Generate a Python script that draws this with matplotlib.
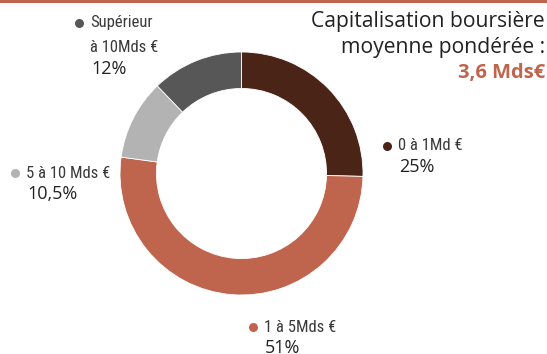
import matplotlib
matplotlib.use("Agg")
import matplotlib.pyplot as plt
from matplotlib import font_manager

# Capitalisation split by bucket (%)
labels = ["0 à 1Md €", "1 à 5Mds €", "5 à 10 Mds €", "Supérieur\nà 10Mds €"]
shares = [25, 51, 10.5, 12]
share_text = ["25%", "51%", "10,5%", "12%"]
colors = ["#4b2418", "#c0654d", "#b3b3b3", "#575757"]

W, H = 547, 354

installed = {f.name for f in font_manager.fontManager.ttflist}
narrow = next((n for n in ["Liberation Sans Narrow", "Roboto Condensed",
                           "Open Sans Condensed", "DejaVu Sans Condensed"]
               if n in installed), "Roboto")
main_font = "Open Sans" if "Open Sans" in installed else "DejaVu Sans"

fig = plt.figure(figsize=(W / 100, H / 100), dpi=100)
ax = fig.add_axes([0, 0, 1, 1])

# orange rule along the top
ax.axhline(H - 1, color="#c0654d", lw=2.2)

cx, cy, r = 241.5, H - 173.5, 121.5
ax.pie(shares, colors=colors, startangle=90, counterclock=False,
       center=(cx, cy), radius=r, frame=True,
       wedgeprops=dict(width=r * 0.30, edgecolor="white", linewidth=0.6))
ax.set_xlim(0, W)
ax.set_ylim(0, H)
ax.set_aspect("equal")
ax.axis("off")

# bullet position (px from top-left) for each label block
anchors = [(387, 146), (253, 327), (15, 173), (79, 23)]
for lab, pct, col, (bx, by) in zip(labels, share_text, colors, anchors):
    ax.plot(bx, H - by, "o", ms=6.5, color=col, mec="none")
    lines = lab.split("\n")
    for i, line in enumerate(lines):
        ax.text(bx + 11, H - by - i * 25, line, family=narrow, fontsize=12,
                color="#3a3a3a", va="center", ha="left")
    ax.text(bx + 12, H - by - 25 * (len(lines) - 1) - 21, pct,
            family=main_font, fontsize=13, color="#222222",
            va="center", ha="left")

ax.text(545, H - 22, "Capitalisation boursière", family=main_font,
        fontsize=15.2, color="#222222", ha="right", va="center")
ax.text(545, H - 48, "moyenne pondérée :", family=main_font,
        fontsize=15.2, color="#222222", ha="right", va="center")
ax.text(545, H - 73, "3,6 Mds€", family=main_font, fontsize=14.5,
        fontweight="bold", color="#c0654d", ha="right", va="center")

fig.savefig("out.png", dpi=100)
